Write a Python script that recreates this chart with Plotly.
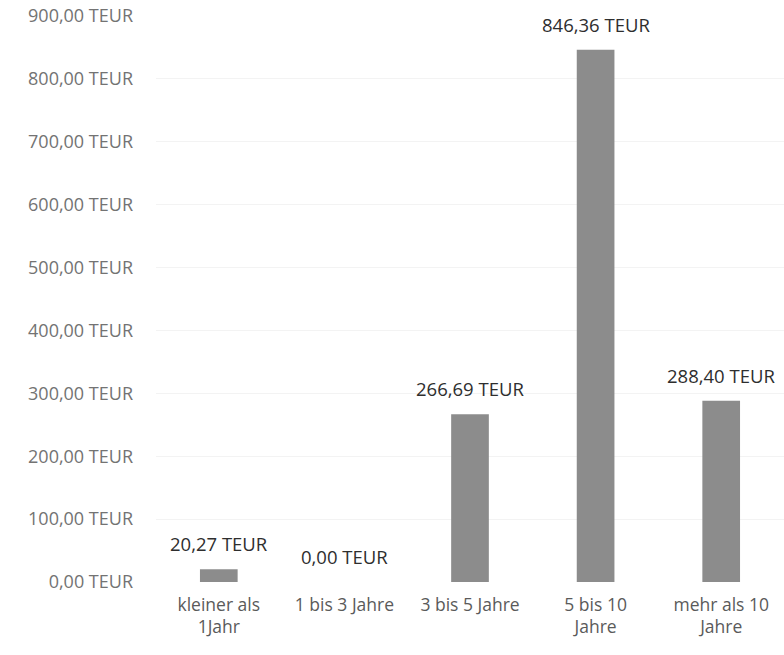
import plotly.graph_objects as go

categories = ["kleiner als<br>1Jahr", "1 bis 3 Jahre", "3 bis 5 Jahre", "5 bis 10<br>Jahre", "mehr als 10<br>Jahre"]
values = [20.27, 0.00, 266.69, 846.36, 288.40]
tick_values = [0, 100, 200, 300, 400, 500, 600, 700, 800, 900]

def de_fmt(v):
    return f"{v:,.2f}".replace(",", "X").replace(".", ",").replace("X", ".") + " TEUR"

fig = go.Figure()
fig.add_trace(go.Bar(
    x=categories, y=values,
    marker=dict(color="#8c8c8c", line=dict(width=0)),
    width=0.3,
    hoverinfo="skip",
))

for c, v in zip(categories, values):
    fig.add_annotation(x=c, y=v, text=de_fmt(v), showarrow=False,
                       yanchor="bottom", yshift=11,
                       font=dict(family="Open Sans", size=18.5, color="#2e2e2e"))

fig.update_layout(
    width=784, height=655,
    margin=dict(l=156, r=0, t=16, b=73),
    plot_bgcolor="white", paper_bgcolor="white",
    showlegend=False,
    font=dict(family="Open Sans", size=17, color="#666666"),
    xaxis=dict(showline=False, ticks="", ticklabelstandoff=10,
               tickfont=dict(size=17.5, color="#5a5a5a")),
    yaxis=dict(range=[0, 900], tickvals=tick_values,
               ticktext=[de_fmt(t) for t in tick_values],
               showgrid=True, gridcolor="#f3f3f3", gridwidth=1,
               zeroline=False, ticklabelstandoff=22,
               tickfont=dict(size=18, color="#737373")),
)

fig.write_html("out.html")
